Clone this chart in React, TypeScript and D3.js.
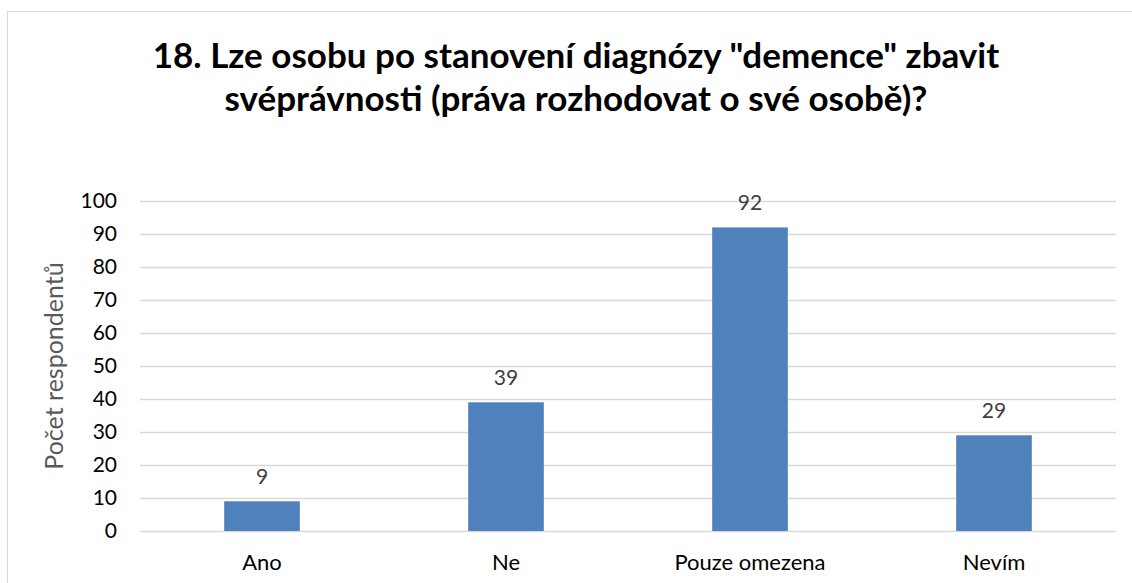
import React, { useEffect, useRef } from "react";
import * as d3 from "d3";

const categories = ["Ano", "Ne", "Pouze omezena", "Nevím"];
const counts = [9, 39, 92, 29];
const yTicks = [0, 10, 20, 30, 40, 50, 60, 70, 80, 90, 100];
const titleLines = [
  '18. Lze osobu po stanovení diagnózy "demence" zbavit',
  "svéprávnosti (práva rozhodovat o své osobě)?",
];
const yLabel = "Počet respondentů";

const W = 1132;
const H = 583;
const FONT = "Lato, 'Open Sans', sans-serif";

export default function App() {
  const ref = useRef<SVGSVGElement>(null);

  useEffect(() => {
    const svg = d3.select(ref.current);
    svg.selectAll("*").remove();

    const margin = { top: 201, right: 16, bottom: 52, left: 140 };

    // chart frame
    svg
      .append("rect")
      .attr("x", 7.5)
      .attr("y", 11.5)
      .attr("width", W)
      .attr("height", H)
      .attr("fill", "#fff")
      .attr("stroke", "#d9d9d9");

    const x = d3
      .scaleBand()
      .domain(categories)
      .range([margin.left, W - margin.right])
      .paddingInner(0.69)
      .paddingOuter(0.345);

    const y = d3
      .scaleLinear()
      .domain([0, 100])
      .range([H - margin.bottom, margin.top]);

    // gridlines
    svg
      .append("g")
      .selectAll("line")
      .data(yTicks)
      .join("line")
      .attr("x1", margin.left)
      .attr("x2", W - margin.right)
      .attr("y1", (d) => Math.round(y(d)) + 0.5)
      .attr("y2", (d) => Math.round(y(d)) + 0.5)
      .attr("stroke", "#d9d9d9")
      .attr("stroke-width", 1.5);

    // y tick labels
    svg
      .append("g")
      .selectAll("text")
      .data(yTicks)
      .join("text")
      .attr("x", 117)
      .attr("y", (d) => y(d))
      .attr("dy", "0.35em")
      .attr("text-anchor", "end")
      .attr("font-family", FONT)
      .attr("font-size", 21)
      .attr("fill", "#000")
      .text((d) => d);

    // y axis title
    svg
      .append("text")
      .attr("transform", `translate(63,${(y(0) + y(100)) / 2}) rotate(-90)`)
      .attr("text-anchor", "middle")
      .attr("font-family", FONT)
      .attr("font-size", 25)
      .attr("fill", "#595959")
      .text(yLabel);

    // bars
    svg
      .append("g")
      .selectAll("rect")
      .data(counts)
      .join("rect")
      .attr("x", (d, i) => x(categories[i])!)
      .attr("y", (d) => y(d))
      .attr("width", x.bandwidth())
      .attr("height", (d) => y(0) - y(d))
      .attr("fill", "#4f81bd");

    // data labels
    svg
      .append("g")
      .selectAll("text")
      .data(counts)
      .join("text")
      .attr("x", (d, i) => x(categories[i])! + x.bandwidth() / 2)
      .attr("y", (d) => y(d) - 17)
      .attr("text-anchor", "middle")
      .attr("font-family", FONT)
      .attr("font-size", 21)
      .attr("fill", "#404040")
      .text((d) => d);

    // category labels
    svg
      .append("g")
      .selectAll("text")
      .data(categories)
      .join("text")
      .attr("x", (d) => x(d)! + x.bandwidth() / 2)
      .attr("y", 570)
      .attr("text-anchor", "middle")
      .attr("font-family", FONT)
      .attr("font-size", 22)
      .attr("fill", "#000")
      .text((d) => d);

    // title
    svg
      .append("g")
      .selectAll("text")
      .data(titleLines)
      .join("text")
      .attr("x", 576)
      .attr("y", (d, i) => 68 + i * 43)
      .attr("text-anchor", "middle")
      .attr("font-family", FONT)
      .attr("font-weight", "bold")
      .attr("font-size", 35)
      .attr("fill", "#000")
      .text((d) => d);
  }, []);

  return (
    <svg
      ref={ref}
      width={W}
      height={H}
      style={{ position: "absolute", left: 0, top: 0, display: "block" }}
    />
  );
}
